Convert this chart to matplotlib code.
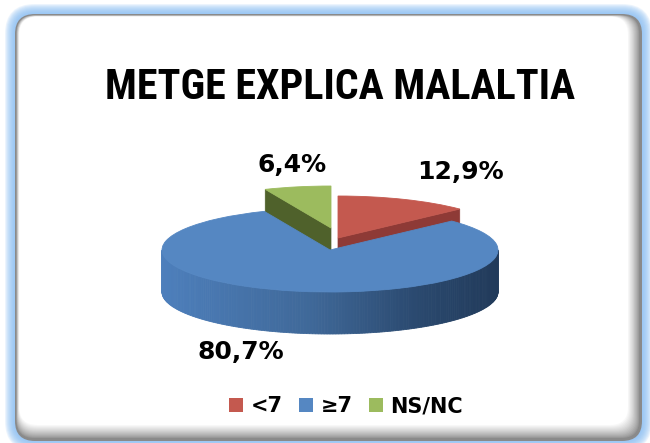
import numpy as np
import matplotlib
matplotlib.use("Agg")
import matplotlib.pyplot as plt
from matplotlib.patches import Wedge, Polygon, FancyBboxPatch, Patch
from matplotlib.transforms import Affine2D
from matplotlib import font_manager
from matplotlib.colors import to_rgb

# Data
categories = ["<7", "\u22657", "NS/NC"]
values = [12.9, 80.7, 6.4]
pct_labels = ["12,9%", "80,7%", "6,4%"]
title = "METGE EXPLICA MALALTIA"

# Style
top_colors = ["#C4594F", "#5587C2", "#9CBB5E"]
face_colors = ["#8E3A36", "#3F6A9C", "#4F612B"]
explode_px = [(8, -12), (0, 0), (1, -22)]
label_pos = [(460, 172), (241, 352), (292, 165)]

W, H = 650, 443
fig = plt.figure(figsize=(W / 100, H / 100), dpi=100)
ax = fig.add_axes([0, 0, 1, 1])
ax.set_xlim(0, W)
ax.set_ylim(H, 0)
ax.axis("off")


def mix(c1, c2, t):
    a, b = np.array(to_rgb(c1)), np.array(to_rgb(c2))
    return tuple(a + (b - a) * t)


def bold_font(prefs):
    # first family that has a real bold face installed
    bold = {f.name for f in font_manager.fontManager.ttflist
            if isinstance(f.weight, int) and f.weight >= 700}
    for p in prefs:
        if p in bold:
            return p
    return "Liberation Sans"


# ---- frame: blue glow, grey inner shadow, white panel
x0, y0, x1, y1 = 15, 14, 642, 441
rad = 20
for g in np.linspace(10, 1, 10):
    ax.add_patch(FancyBboxPatch((x0 - g, y0 - g), x1 - x0 + 2 * g, y1 - y0 + 2 * g,
                                boxstyle=f"round,pad=0,rounding_size={rad + g}",
                                fc="#8CC0F4", ec="none", alpha=0.16, zorder=1))
ax.add_patch(FancyBboxPatch((x0, y0), x1 - x0, y1 - y0,
                            boxstyle=f"round,pad=0,rounding_size={rad}",
                            fc="#8A8A8A", ec="none", zorder=2))
n = 14
for i in range(n):
    t = (i + 1) / n
    l, tp = 1.2 + 3.0 * t, 1.2 + 1.5 * t
    r, b = 2.0 + 12.0 * t, 2.0 + 14.0 * t
    col = mix("#8A8A8A", "#FFFFFF", t ** 0.8)
    ax.add_patch(FancyBboxPatch((x0 + l, y0 + tp), x1 - x0 - l - r, y1 - y0 - tp - b,
                                boxstyle=f"round,pad=0,rounding_size={rad - 2}",
                                fc=col, ec="none", zorder=2))

# ---- title (condensed bold font, sized to the reference width)
title_font = bold_font(["Liberation Sans Narrow", "Arial Narrow", "Archivo Narrow",
                        "Roboto Condensed", "Fira Sans Condensed", "Barlow Semi Condensed",
                        "IBM Plex Sans Condensed", "Encode Sans Condensed",
                        "Asap Condensed", "PT Sans Narrow", "Liberation Sans"])
ttl = ax.text(340, 87, title, fontsize=30, fontweight="bold", family=title_font,
              ha="center", va="center", color="black", zorder=10)
rend = fig.canvas.get_renderer()
wpx = ttl.get_window_extent(rend).width
ttl.set_fontsize(min(34, 30 * 469 / wpx))

# ---- 3D pie
cx, cy, rx, ry, depth = 330, 250, 168, 42, 42
fr = np.array(values) / sum(values)
# clockwise from 12 o'clock
ends = 90 - 360 * np.cumsum(fr)
starts = np.concatenate([[90], ends[:-1]])


def pt(theta, dx=0, dy=0):
    th = np.radians(theta)
    return cx + dx + rx * np.cos(th), cy + dy - ry * np.sin(th)


def top_wedge(i, z):
    dx, dy = explode_px[i]
    tr = Affine2D().scale(rx, -ry).translate(cx + dx, cy + dy) + ax.transData
    w = Wedge((0, 0), 1, ends[i], starts[i], fc=top_colors[i], ec=top_colors[i],
              lw=0.6, zorder=z)
    w.set_transform(tr)
    ax.add_patch(w)


def radial_face(i, theta, z):
    dx, dy = explode_px[i]
    a = (cx + dx, cy + dy)
    e = pt(theta, dx, dy)
    poly = [a, e, (e[0], e[1] + depth), (a[0], a[1] + depth)]
    ax.add_patch(Polygon(poly, closed=True, fc=face_colors[i], ec=face_colors[i],
                         lw=0.5, zorder=z))


# back slices: cut faces facing the viewer, then their tops
radial_face(2, starts[2], 4)   # green, left edge
top_wedge(2, 5)
radial_face(0, ends[0], 4)     # red, right edge
top_wedge(0, 5)

# blue body side (front half) with horizontal shading
side_cols = ["#4D7FBC", "#3F6898", "#2B4A70", "#213A5A"]
stops = [0.0, 0.45, 0.75, 1.0]
thetas = np.linspace(180, 360, 181)
for k in range(len(thetas) - 1):
    p1 = pt(thetas[k]); p2 = pt(thetas[k + 1])
    t = ((p1[0] + p2[0]) / 2 - (cx - rx)) / (2 * rx)
    j = min(np.searchsorted(stops, t, side="right") - 1, len(stops) - 2)
    u = (t - stops[j]) / (stops[j + 1] - stops[j])
    col = mix(side_cols[j], side_cols[j + 1], np.clip(u, 0, 1))
    poly = [p1, p2, (p2[0], p2[1] + depth), (p1[0], p1[1] + depth)]
    ax.add_patch(Polygon(poly, closed=True, fc=col, ec=col, lw=0.6, zorder=6))
top_wedge(1, 7)

for i, lab in enumerate(pct_labels):
    ax.text(label_pos[i][0], label_pos[i][1], lab, fontsize=18, fontweight="bold",
            ha="center", va="center", color="black", zorder=10)

# ---- legend
handles = [Patch(fc=top_colors[i], ec="none", label=categories[i]) for i in range(3)]
fig.legend(handles=handles, loc="center", bbox_to_anchor=(346 / W, 1 - 406 / H),
           ncol=3, frameon=False, handlelength=0.68, handleheight=0.68,
           handletextpad=0.35, columnspacing=0.8,
           prop={"weight": "bold", "size": 15})

fig.savefig("out.png", dpi=100)
